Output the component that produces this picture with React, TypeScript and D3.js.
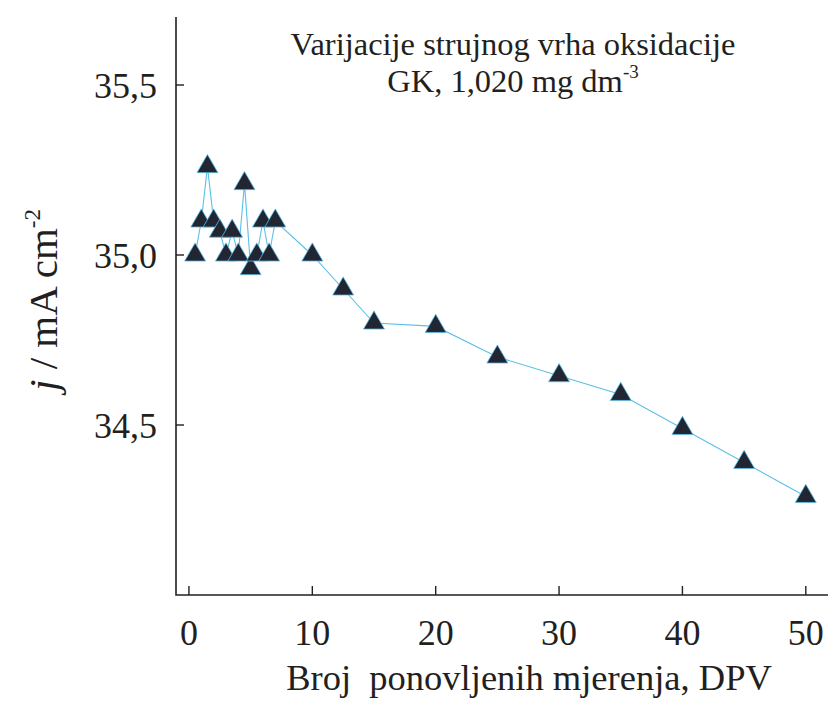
import React, { useEffect, useRef } from "react";
import * as d3 from "d3";

const measurementNo: number[] = [0.5, 1, 1.5, 2, 2.5, 3, 3.5, 4, 4.5, 5, 5.5, 6, 6.5, 7, 10, 12.5, 15, 20, 25, 30, 35, 40, 45, 50];
const currentDensity: number[] = [35.0, 35.1, 35.26, 35.1, 35.07, 35.0, 35.07, 35.0, 35.21, 34.96, 35.0, 35.1, 35.0, 35.1, 35.0, 34.9, 34.8, 34.79, 34.7, 34.645, 34.59, 34.49, 34.39, 34.29];
const xTicks: number[] = [0, 10, 20, 30, 40, 50];
const yTicks: number[] = [34.5, 35.0, 35.5];
const titleLine1 = "Varijacije strujnog vrha oksidacije";
const titleLine2 = "GK, 1,020 mg dm";
const titleSup = "-3";
const xTitle = "Broj  ponovljenih mjerenja, DPV";

const W = 828;
const H = 705;
const INK = "#231f20";
const LINE = "#5bbfe9";
const MARK = "#222633";
const FONT = "'Liberation Serif', 'Times New Roman', serif";

export default function App() {
  const ref = useRef<SVGSVGElement | null>(null);

  useEffect(() => {
    const svg = d3.select(ref.current);
    svg.selectAll("*").remove();

    const x = d3.scaleLinear().domain([-1.05, 51.8]).range([176, 828]);
    const y = d3.scaleLinear().domain([34.0, 35.7]).range([595, 17]);

    const g = svg.append("g");

    g.append("path")
      .attr("d", `M${x.range()[0]},${y.range()[1]} V${y.range()[0]} H${x.range()[1]}`)
      .attr("fill", "none")
      .attr("stroke", INK)
      .attr("stroke-width", 1.6);

    xTicks.forEach((t) => {
      g.append("line")
        .attr("x1", x(t)).attr("x2", x(t))
        .attr("y1", y.range()[0]).attr("y2", y.range()[0] - 9)
        .attr("stroke", INK).attr("stroke-width", 1.4);
      g.append("text")
        .attr("x", x(t)).attr("y", 645)
        .attr("text-anchor", "middle")
        .attr("font-family", FONT).attr("font-size", 36)
        .attr("fill", INK)
        .text(String(t));
    });

    yTicks.forEach((t) => {
      g.append("line")
        .attr("x1", x.range()[0]).attr("x2", x.range()[0] + 8)
        .attr("y1", y(t)).attr("y2", y(t))
        .attr("stroke", INK).attr("stroke-width", 1.4);
      g.append("text")
        .attr("x", 157).attr("y", y(t))
        .attr("dy", "0.35em")
        .attr("text-anchor", "end")
        .attr("font-family", FONT).attr("font-size", 36)
        .attr("fill", INK)
        .text(t.toFixed(1).replace(".", ","));
    });

    const data = measurementNo.map((v, i) => ({ x: v, y: currentDensity[i] }));

    const line = d3.line<{ x: number; y: number }>()
      .x((d) => x(d.x))
      .y((d) => y(d.y));

    g.append("path")
      .datum(data)
      .attr("d", line)
      .attr("fill", "none")
      .attr("stroke", LINE)
      .attr("stroke-width", 1.1);

    const sym = d3.symbol().type(d3.symbolTriangle).size(190);
    g.selectAll("path.pt")
      .data(data)
      .enter()
      .append("path")
      .attr("class", "pt")
      .attr("transform", (d) => `translate(${x(d.x)},${y(d.y)})`)
      .attr("d", sym() as string)
      .attr("fill", MARK)
      .attr("stroke", LINE)
      .attr("stroke-width", 0.8);

    g.append("text")
      .attr("x", 513).attr("y", 55)
      .attr("text-anchor", "middle")
      .attr("font-family", FONT).attr("font-size", 32.5)
      .attr("fill", INK)
      .text(titleLine1);
    const t2 = g.append("text")
      .attr("x", 513).attr("y", 92)
      .attr("text-anchor", "middle")
      .attr("font-family", FONT).attr("font-size", 32.5)
      .attr("fill", INK);
    t2.append("tspan").text(titleLine2);
    t2.append("tspan").attr("font-size", 19).attr("dy", -14).text(titleSup);

    g.append("text")
      .attr("x", 529).attr("y", 690)
      .attr("text-anchor", "middle")
      .attr("font-family", FONT).attr("font-size", 36.5)
      .attr("fill", INK)
      .attr("xml:space", "preserve")
      .style("white-space", "pre")
      .text(xTitle);

    const yt = g.append("text")
      .attr("transform", "translate(57,300) rotate(-90)")
      .attr("text-anchor", "middle")
      .attr("font-family", FONT).attr("font-size", 41)
      .attr("fill", INK);
    yt.append("tspan").attr("font-style", "italic").text("j");
    yt.append("tspan").text(" / mA cm");
    yt.append("tspan").attr("font-size", 23).attr("dy", -17).text("-2");
  }, []);

  return (
    <svg
      ref={ref}
      width={W}
      height={H}
      style={{ position: "absolute", left: 0, top: 0, background: "#fff" }}
    />
  );
}
